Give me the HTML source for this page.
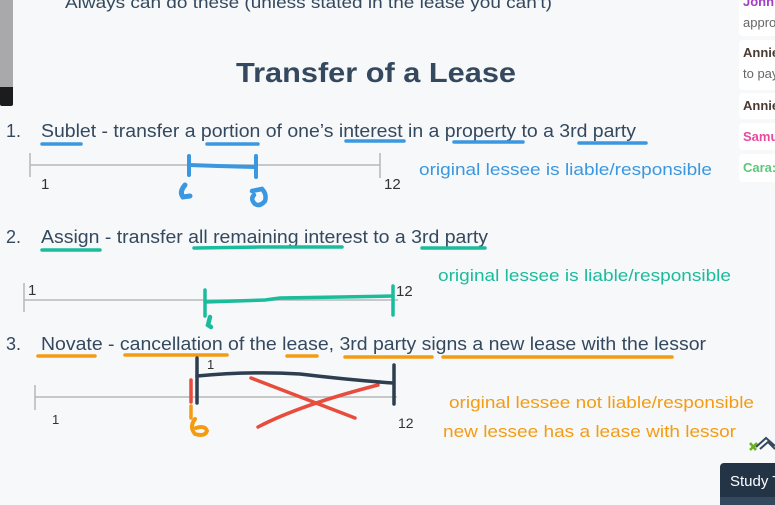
<!DOCTYPE html>
<html><head><meta charset="utf-8"><style>
html,body{margin:0;padding:0;background:#f7f8fa;}
svg{display:block;font-family:"Liberation Sans",sans-serif;}
</style></head><body>
<svg width="775" height="505" viewBox="0 0 775 505" xmlns="http://www.w3.org/2000/svg">
<rect width="775" height="505" fill="#f7f8fa"/>
<rect x="0" y="0" width="13" height="106" rx="2" fill="#1c1c1e"/>
<rect x="0" y="0" width="13" height="87" fill="#a9a8ab"/>
<text x="65" y="8" font-size="17" fill="#34495e" textLength="487" lengthAdjust="spacingAndGlyphs">Always can do these (unless stated in the lease you can't)</text>
<text x="236" y="82" font-size="28" font-weight="bold" fill="#34495e" textLength="280" lengthAdjust="spacingAndGlyphs">Transfer of a Lease</text>

<text x="6" y="137" font-size="18" fill="#34495e">1.</text>
<text x="41" y="137" font-size="18" fill="#34495e" textLength="595" lengthAdjust="spacingAndGlyphs">Sublet - transfer a portion of one’s interest in a property to a 3rd party</text>
<g stroke="#3a97e0" stroke-width="3.5" stroke-linecap="round" fill="none">
<line x1="42" y1="144" x2="81" y2="144"/><line x1="207" y1="144" x2="258" y2="144"/>
<line x1="346" y1="141" x2="404" y2="141"/><line x1="454" y1="142" x2="523" y2="142"/>
<line x1="579" y1="143" x2="646" y2="143"/>
</g>
<g stroke="#b7b7b7" stroke-width="1.5"><line x1="30" y1="165" x2="380" y2="165"/><line x1="30" y1="153" x2="30" y2="177"/><line x1="380" y1="153" x2="380" y2="178"/></g>
<text x="41" y="189" font-size="15" fill="#333">1</text>
<text x="384" y="189" font-size="15" fill="#333">12</text>
<g stroke="#3a97e0" stroke-width="4" stroke-linecap="round" fill="none">
<line x1="189" y1="156" x2="189" y2="175"/><line x1="256" y1="156" x2="256" y2="177"/>
<path d="M189 165 L218 166 L256 167"/>
<path d="M185 185 Q179 192 183 197 L190 196" stroke-width="5"/>
<path d="M252 191 L262 189 Q267 194 265 201 Q260 207 255 204 Q250 199 254 195" stroke-width="4.5"/>
</g>
<text x="419" y="175" font-size="17" fill="#3a97e0" textLength="293" lengthAdjust="spacingAndGlyphs">original lessee is liable/responsible</text>

<text x="6" y="243" font-size="18" fill="#34495e">2.</text>
<text x="41" y="243" font-size="18" fill="#34495e" textLength="447" lengthAdjust="spacingAndGlyphs">Assign - transfer all remaining interest to a 3rd party</text>
<g stroke="#1abc9c" stroke-width="3.5" stroke-linecap="round" fill="none">
<line x1="42" y1="250" x2="100" y2="250"/><path d="M194 248 L260 247 L342 247"/><line x1="422" y1="248" x2="485" y2="248"/>
</g>
<text x="438" y="281" font-size="17" fill="#1abc9c" textLength="293" lengthAdjust="spacingAndGlyphs">original lessee is liable/responsible</text>
<g stroke="#b7b7b7" stroke-width="1.5"><line x1="24" y1="300" x2="398" y2="300"/><line x1="24" y1="283" x2="24" y2="312"/></g>
<text x="28" y="295" font-size="15" fill="#333">1</text>
<text x="396" y="296" font-size="15" fill="#333">12</text>
<g stroke="#1abc9c" stroke-width="3.5" stroke-linecap="round" fill="none">
<line x1="205" y1="290" x2="205" y2="316"/><line x1="393" y1="286" x2="393" y2="315"/>
<path d="M205 302 L265 300 L280 298 L340 297 L393 296"/>
<path d="M210 317 L208 325 L211 327" stroke-width="4.5"/>
</g>

<text x="6" y="350" font-size="18" fill="#34495e">3.</text>
<text x="41" y="350" font-size="18" fill="#34495e" textLength="665" lengthAdjust="spacingAndGlyphs">Novate - cancellation of the lease, 3rd party signs a new lease with the lessor</text>
<g stroke="#f39c12" stroke-width="3.5" stroke-linecap="round" fill="none">
<line x1="38" y1="356" x2="95" y2="356"/><line x1="125" y1="355" x2="227" y2="355"/>
<line x1="287" y1="356" x2="317" y2="356"/><line x1="345" y1="357" x2="432" y2="357"/>
<line x1="443" y1="357" x2="672" y2="357"/>
</g>
<g stroke="#b7b7b7" stroke-width="1.5"><line x1="35" y1="397" x2="397" y2="397"/><line x1="35" y1="385" x2="35" y2="410"/></g>
<text x="52" y="424" font-size="13" fill="#333">1</text>
<text x="398" y="428" font-size="14" fill="#333">12</text>
<text x="207" y="369" font-size="13" fill="#333">1</text>
<g stroke="#e74c3c" stroke-width="3.5" stroke-linecap="round" fill="none">
<line x1="191" y1="380" x2="191" y2="402"/>
<line x1="251" y1="378" x2="355" y2="418"/><path d="M258 427 Q300 405 378 385"/>
</g>
<g stroke="#2c3e50" stroke-width="3.5" stroke-linecap="round" fill="none">
<line x1="197" y1="358" x2="197" y2="403"/><line x1="394" y1="365" x2="394" y2="404"/>
<path d="M197 376 Q250 371 300 374 Q350 380 393 383"/>
</g>
<g stroke="#f39c12" stroke-width="3.5" stroke-linecap="round" fill="none">
<line x1="191" y1="406" x2="191" y2="418"/>
<path d="M195 419 Q189 427 195 434 Q205 437 207 431 Q205 425 196 428" stroke-width="4"/>
</g>
<text x="449" y="408" font-size="17" fill="#f39c12" textLength="305" lengthAdjust="spacingAndGlyphs">original lessee not liable/responsible</text>
<text x="443" y="437" font-size="17" fill="#f39c12" textLength="293" lengthAdjust="spacingAndGlyphs">new lessee has a lease with lessor</text>

<g font-size="13">
<rect x="739" y="-4" width="45" height="40" rx="4" fill="#fff"/>
<text x="743" y="6" fill="#a23dc4" font-weight="bold">John</text>
<text x="743" y="27" fill="#666">approve</text>
<rect x="739" y="40" width="45" height="50" rx="4" fill="#fff"/>
<text x="743" y="57" fill="#4a3c34" font-weight="bold">Annie</text>
<text x="743" y="78" fill="#666">to pay</text>
<rect x="739" y="93" width="45" height="26" rx="4" fill="#fff"/>
<text x="743" y="110" fill="#4a3c34" font-weight="bold">Annie</text>
<rect x="739" y="123" width="45" height="27" rx="4" fill="#fff"/>
<text x="743" y="141" fill="#e84aa0" font-weight="bold">Samuel</text>
<rect x="739" y="154" width="45" height="28" rx="4" fill="#fff"/>
<text x="743" y="172" fill="#5cc87a" font-weight="bold">Cara:</text>
</g>
<path d="M750 450 L757 443" stroke="#6ab023" stroke-width="2.5"/>
<path d="M750 443 L756 450" stroke="#6ab023" stroke-width="2.5"/>
<path d="M756 447 L766 438 L775 446 M760 449 L768 442 L775 449" stroke="#34495e" stroke-width="2" fill="none"/>
<rect x="720" y="463" width="60" height="50" rx="4" fill="#243447"/>
<rect x="720" y="497" width="60" height="10" fill="#34495e"/>
<text x="730" y="486" font-size="15" fill="#fff">Study T</text>
</svg>
</body></html>
